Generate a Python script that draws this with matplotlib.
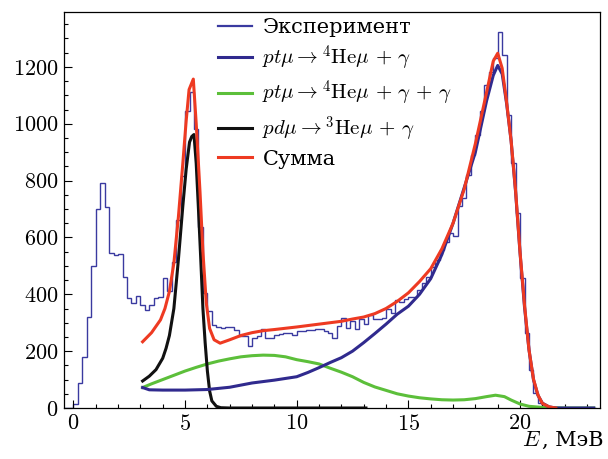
import numpy as np
import matplotlib
matplotlib.use("Agg")
import matplotlib.pyplot as plt
from matplotlib.lines import Line2D
from matplotlib.ticker import MultipleLocator

plt.rcParams['font.family'] = ['cmr10', 'DejaVu Serif']
plt.rcParams['mathtext.fontset'] = 'cm'
plt.rcParams['axes.formatter.use_mathtext'] = True

# ---- data ----
hist_start = -0.4
hist_width = 0.2
hist_counts = [0, 0,
    15, 87, 180, 321, 500, 699, 793, 706, 546, 538, 542, 460, 386, 370, 395, 362, 345, 364,
    386, 390, 456, 411, 515, 660, 816, 1043, 1110, 981, 636, 404, 342, 292, 286, 280,
    284, 284, 274, 253, 253, 218, 245, 253, 278, 247, 247, 258, 262, 265, 265, 257, 272,
    272, 274, 274, 278, 278, 270,
    265, 245, 288, 315, 280, 307, 277, 312, 296, 327, 312, 312, 317, 347, 335, 380, 374,
    382, 392, 389, 415, 439, 460,
    497, 520, 555, 585, 615, 605, 709, 740, 820, 890, 960, 1043, 1137, 1183, 1230, 1324,
    1240, 1031, 861, 687, 456, 265, 134, 52, 17, 5,
    0, 0, 0, 0, 0, 0, 0, 0, 0, 0, 0]

pt_E = [3.1, 3.4, 4.0, 5.0, 6.0, 7.0, 8.0, 9.0, 10.0, 10.5, 11.0, 11.5, 12.0, 12.5, 13.0,
        13.5, 14.0, 14.5, 15.0, 15.5, 16.0, 16.5, 17.0, 17.5, 18.0, 18.5, 18.8, 19.0, 19.2,
        19.4, 19.6, 19.8, 20.0, 20.2, 20.4, 20.6, 20.8, 21.0, 21.3, 21.6, 23.3]
pt_val = [72, 64, 63, 63, 65, 73, 88, 98, 110, 125, 142, 160, 177, 200, 230,
          262, 295, 330, 358, 400, 455, 540, 650, 775, 900, 1080, 1170, 1205, 1175,
          1070, 940, 760, 545, 355, 205, 100, 45, 17, 4, 0, 0]

ptgg_E = [3.1, 3.5, 4.0, 4.5, 5.0, 5.5, 6.0, 6.5, 7.0, 7.5, 8.0, 8.5, 9.0, 9.5, 10.0,
          10.5, 11.0, 11.5, 12.0, 12.5, 13.0, 13.5, 14.0, 14.5, 15.0, 15.5, 16.0, 16.5,
          17.0, 17.5, 18.0, 18.5, 18.9, 19.3, 19.6, 20.0, 20.4, 21.0, 22.0, 23.3]
ptgg_val = [72, 85, 100, 115, 130, 143, 155, 165, 173, 180, 184, 186, 185, 180, 170,
            163, 155, 140, 126, 110, 90, 74, 62, 50, 42, 36, 32, 29,
            28, 29, 33, 40, 45, 40, 28, 14, 6, 2, 0, 0]

pd_E = [3.1, 3.4, 3.7, 4.0, 4.15, 4.3, 4.5, 4.7, 4.9, 5.05, 5.2, 5.3, 5.4, 5.5, 5.6,
        5.7, 5.8, 5.9, 6.0, 6.1, 6.2, 6.4, 6.6, 7.0, 13.1]
pd_val = [95, 112, 135, 175, 210, 255, 350, 520, 710, 840, 935, 955, 962, 860, 700,
          530, 350, 230, 130, 60, 25, 6, 1, 0, 0]

sum_E = [3.1, 3.5, 3.9, 4.1, 4.3, 4.5, 4.7, 4.9, 5.05, 5.18, 5.37, 5.5, 5.67, 5.8, 5.95,
         6.1, 6.3, 6.57, 7.0, 7.5, 8.0, 8.5, 9.0, 10.0, 11.0, 12.0, 12.5, 13.0, 13.5,
         14.0, 14.5, 15.0, 15.5, 16.0, 16.5, 17.0, 17.5, 18.0, 18.5, 18.8, 19.0, 19.2,
         19.4, 19.6, 19.8, 20.0, 20.2, 20.4, 20.6, 20.8, 21.0, 21.3, 21.6]
sum_val = [233, 265, 310, 350, 410, 510, 670, 860, 1010, 1120, 1157, 1000, 760, 550, 370,
           280, 240, 228, 240, 255, 265, 272, 276, 285, 295, 305, 313, 320, 332,
           350, 375, 405, 445, 490, 560, 650, 770, 930, 1110, 1220, 1248, 1195,
           1075, 940, 765, 548, 362, 205, 102, 46, 16, 4, 0]

labels = ['Эксперимент',
          r'$pt\mu \rightarrow {}^{4}\mathrm{He}\mu\, +\, \gamma$',
          r'$pt\mu \rightarrow {}^{4}\mathrm{He}\mu\, +\, \gamma\, +\, \gamma$',
          r'$pd\mu \rightarrow {}^{3}\mathrm{He}\mu\, +\, \gamma$',
          'Сумма']
xlabel_var = '$E$'
xlabel_unit = ', МэВ'

c_hist = '#3a3aa0'
c_pt = '#302a8e'
c_ptgg = '#5cbf3a'
c_pd = '#111111'
c_sum = '#ee3a22'

# ---- figure ----
fig = plt.figure(figsize=(6.08, 4.59), dpi=100)
ax = fig.add_axes([64/608, 1 - 408/459, 536/608, 396/459])

edges = hist_start + hist_width * np.arange(len(hist_counts) + 1)
ax.stairs(hist_counts, edges, color=c_hist, lw=1.0, baseline=None)
ax.plot(ptgg_E, ptgg_val, color=c_ptgg, lw=2.2)
ax.plot(pd_E, pd_val, color=c_pd, lw=2.2)
ax.plot(pt_E, pt_val, color=c_pt, lw=2.2)
ax.plot(sum_E, sum_val, color=c_sum, lw=2.2)

ax.set_xlim(-0.42, 23.58)
ax.set_ylim(0, 1393)
ax.xaxis.set_major_locator(MultipleLocator(5))
ax.xaxis.set_minor_locator(MultipleLocator(1))
ax.yaxis.set_major_locator(MultipleLocator(200))
ax.yaxis.set_minor_locator(MultipleLocator(50))
ax.tick_params(which='both', direction='in', top=False, right=False, labelsize=16)
ax.tick_params(which='major', length=6, width=0.8)
ax.tick_params(which='minor', length=3, width=0.8)
ax.tick_params(axis='x', pad=4)
ax.tick_params(axis='y', pad=4)
for s in ax.spines.values():
    s.set_linewidth(0.9)

handles = [Line2D([], [], color=c_hist, lw=1.6),
           Line2D([], [], color=c_pt, lw=2.2),
           Line2D([], [], color=c_ptgg, lw=2.2),
           Line2D([], [], color=c_pd, lw=2.2),
           Line2D([], [], color=c_sum, lw=2.2)]
ax.legend(handles, labels, loc='upper left', bbox_to_anchor=(0.275, 1.0),
          frameon=False, fontsize=15, handlelength=1.65, handletextpad=0.5,
          labelspacing=0.3, borderaxespad=0.1, borderpad=0.2)

# x-axis label: unit in a serif font with Cyrillic, variable in math italic
t_unit = fig.text(603/608, 1 - 440/459, xlabel_unit, ha='right', va='center',
                  fontsize=15, family=['DejaVu Serif'])
fig.canvas.draw()
bb = t_unit.get_window_extent()
x_left = bb.x0 / fig.bbox.width
fig.text(x_left, 1 - 440/459, xlabel_var, ha='right', va='center', fontsize=16)

fig.savefig('out.png', dpi=100)
